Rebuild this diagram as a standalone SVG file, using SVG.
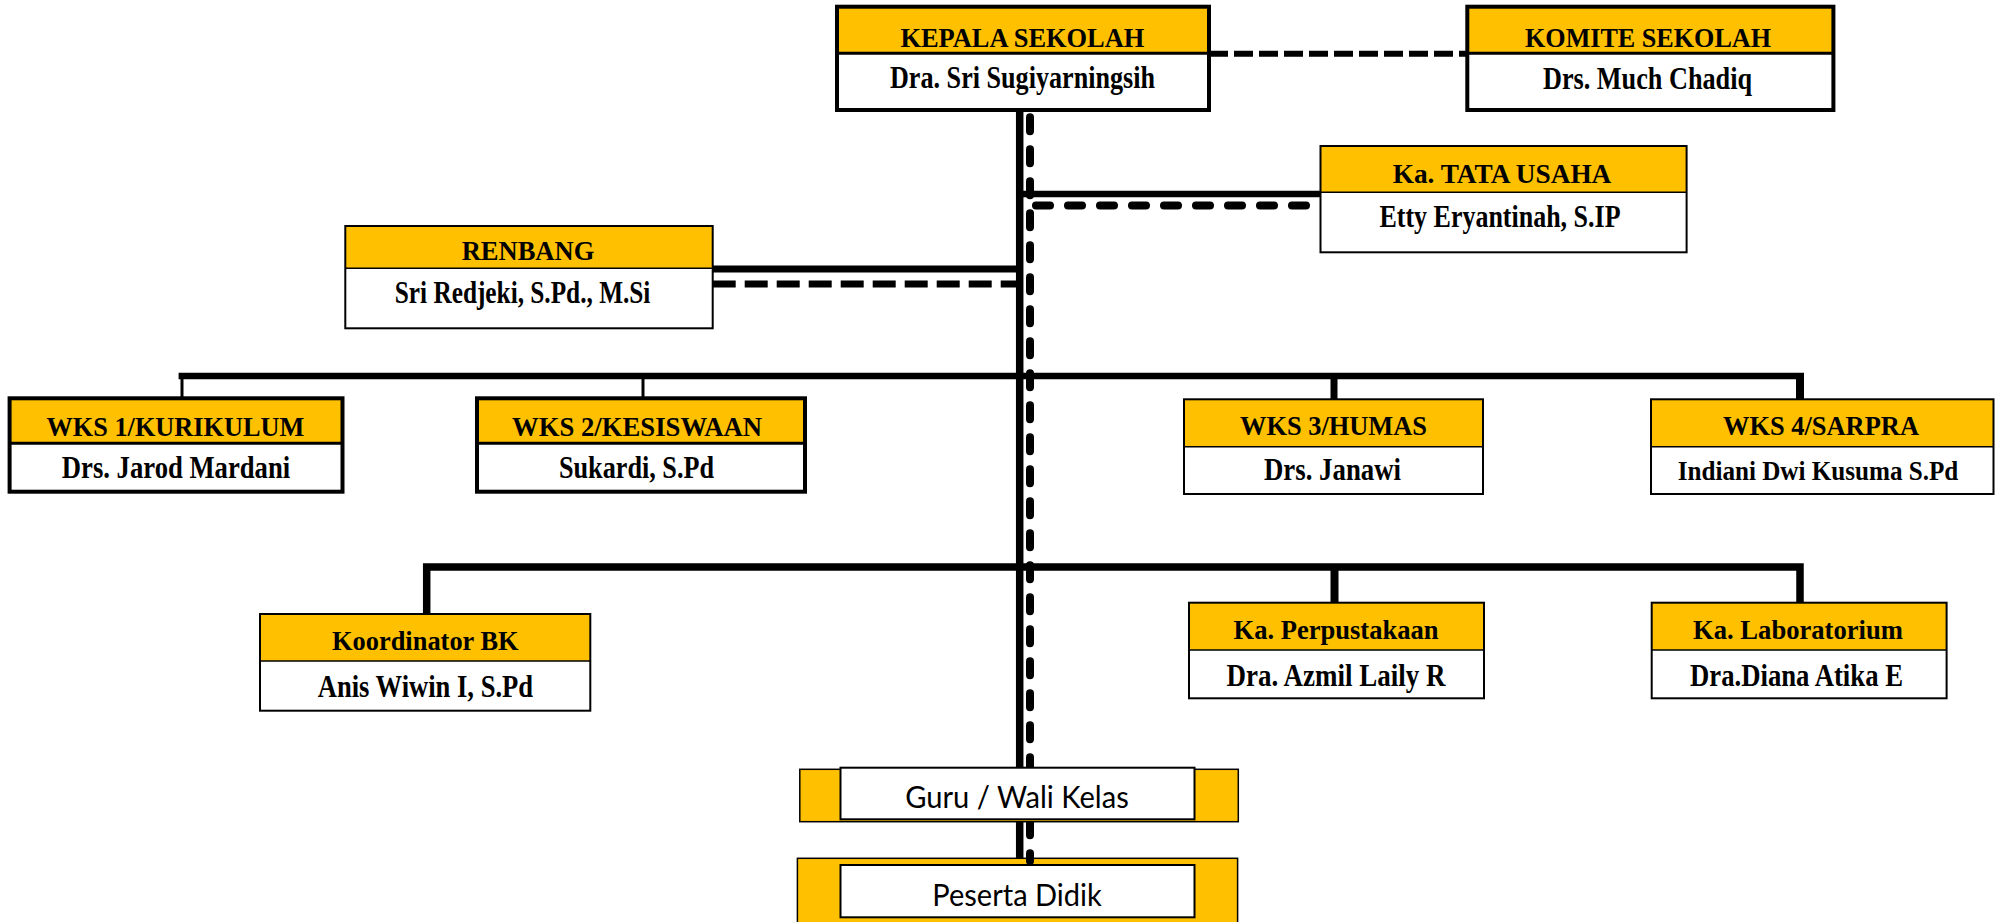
<svg xmlns="http://www.w3.org/2000/svg" width="2003" height="922" viewBox="0 0 2003 922">
<style>
.hd{fill:#FFC000}
.bx{fill:#fff}
.thick{fill:none;stroke:#000;stroke-width:4}
.thin{fill:none;stroke:#000;stroke-width:2}
.div4{stroke:#000;stroke-width:3}
.div2{stroke:#000;stroke-width:1.5}
.t{font-family:"Liberation Serif","Times New Roman",serif;font-weight:bold;text-anchor:middle;fill:#000}
.h{font-size:27.5px}
.n{font-size:30.5px}
.n2{font-size:28px}
.s{font-family:Lato,"Open Sans","Liberation Sans",sans-serif;font-size:30px;text-anchor:middle;fill:#000}
.solid{fill:none;stroke:#000;stroke-linecap:butt}
.dashR{fill:none;stroke:#000;stroke-width:8;stroke-linecap:round;stroke-dasharray:14 18}
</style>
<rect width="2003" height="922" fill="#fff"/>

<g id="peserta-didik">
<rect x="797.4" y="858.3" width="440.2" height="70" class="hd" stroke="#000" stroke-width="1.5"/>
<rect x="840.5" y="865" width="354" height="52.3" class="bx" stroke="#000" stroke-width="2"/>
<text x="1017" y="905.7" class="s" textLength="169.5" lengthAdjust="spacingAndGlyphs">Peserta Didik</text>
</g>

<g id="connectors">
<path class="solid" stroke-width="7.5" d="M1019.7 110 V858.3"/>
<path class="dashR" d="M1030 117.3 V861"/>
<path class="solid" stroke-width="6" stroke-dasharray="19 6" d="M1209 53.7 H1467"/>
<path class="solid" stroke-width="6.6" d="M1020 194 H1321"/>
<path class="dashR" d="M1036 205.5 H1318"/>
<path class="solid" stroke-width="7" d="M712 269 H1020"/>
<path class="solid" stroke-width="7" stroke-dasharray="23 9" d="M712.7 284 H1016"/>
<path class="solid" stroke-width="6.5" d="M178.6 376 H1804"/>
<path class="solid" stroke-width="3" d="M182 376 V399"/>
<path class="solid" stroke-width="3" d="M643 376 V399"/>
<path class="solid" stroke-width="7" d="M1334 376 V400"/>
<path class="solid" stroke-width="8" d="M1800 373 V400"/>
<path class="solid" stroke-width="7.5" stroke-linejoin="miter" d="M426.7 614 V567 H1800 V603"/>
<path class="solid" stroke-width="8" d="M1334.5 567 V603"/>
</g>

<g id="kepala-sekolah">
<rect x="837" y="6.7" width="372" height="46.6" class="hd"/>
<rect x="837" y="53.3" width="372" height="56.7" class="bx"/>
<line x1="837" y1="53.3" x2="1209" y2="53.3" class="div4"/>
<rect x="837" y="6.7" width="372" height="103.3" class="thick"/>
<text x="1022.4" y="46.7" class="t h" textLength="244" lengthAdjust="spacingAndGlyphs">KEPALA SEKOLAH</text>
<text x="1022.5" y="88" class="t n" textLength="265" lengthAdjust="spacingAndGlyphs">Dra. Sri Sugiyarningsih</text>
</g>

<g id="komite-sekolah">
<rect x="1467.3" y="6.7" width="366.1" height="46.6" class="hd"/>
<rect x="1467.3" y="53.3" width="366.1" height="56.7" class="bx"/>
<line x1="1467.3" y1="53.3" x2="1833.4" y2="53.3" class="div4"/>
<rect x="1467.3" y="6.7" width="366.1" height="103.3" class="thick"/>
<text x="1648" y="46.7" class="t h" textLength="246" lengthAdjust="spacingAndGlyphs">KOMITE SEKOLAH</text>
<text x="1647.5" y="89" class="t n" textLength="209" lengthAdjust="spacingAndGlyphs">Drs. Much Chadiq</text>
</g>

<g id="tata-usaha">
<rect x="1320.5" y="146" width="366.1" height="46.3" class="hd"/>
<rect x="1320.5" y="192.3" width="366.1" height="60" class="bx"/>
<line x1="1320.5" y1="192.3" x2="1686.6" y2="192.3" class="div2"/>
<rect x="1320.5" y="146" width="366.1" height="106.3" class="thin"/>
<text x="1502" y="182.7" class="t h" textLength="218.7" lengthAdjust="spacingAndGlyphs">Ka. TATA USAHA</text>
<text x="1500" y="226.7" class="t n" textLength="241" lengthAdjust="spacingAndGlyphs">Etty Eryantinah, S.IP</text>
</g>

<g id="renbang">
<rect x="345.3" y="226" width="367.4" height="42.3" class="hd"/>
<rect x="345.3" y="268.3" width="367.4" height="60" class="bx"/>
<line x1="345.3" y1="268.3" x2="712.7" y2="268.3" class="div2"/>
<rect x="345.3" y="226" width="367.4" height="102.3" class="thin"/>
<text x="528" y="260" class="t h" textLength="132.7" lengthAdjust="spacingAndGlyphs">RENBANG</text>
<text x="522.6" y="303.3" class="t n" textLength="255.6" lengthAdjust="spacingAndGlyphs">Sri Redjeki, S.Pd., M.Si</text>
</g>

<g id="wks1">
<rect x="9.6" y="398.3" width="332.9" height="45" class="hd"/>
<rect x="9.6" y="443.3" width="332.9" height="48.4" class="bx"/>
<line x1="9.6" y1="443.3" x2="342.5" y2="443.3" class="div4"/>
<rect x="9.6" y="398.3" width="332.9" height="93.4" class="thick"/>
<text x="175.4" y="436" class="t h" textLength="257.6" lengthAdjust="spacingAndGlyphs">WKS 1/KURIKULUM</text>
<text x="176" y="478.3" class="t n" textLength="228.3" lengthAdjust="spacingAndGlyphs">Drs. Jarod Mardani</text>
</g>

<g id="wks2">
<rect x="477" y="398.3" width="328" height="45" class="hd"/>
<rect x="477" y="443.3" width="328" height="48.4" class="bx"/>
<line x1="477" y1="443.3" x2="805" y2="443.3" class="div4"/>
<rect x="477" y="398.3" width="328" height="93.4" class="thick"/>
<text x="637" y="436" class="t h" textLength="250" lengthAdjust="spacingAndGlyphs">WKS 2/KESISWAAN</text>
<text x="636.5" y="478.3" class="t n" textLength="155" lengthAdjust="spacingAndGlyphs">Sukardi, S.Pd</text>
</g>

<g id="wks3">
<rect x="1184" y="399.3" width="299" height="47.4" class="hd"/>
<rect x="1184" y="446.7" width="299" height="47.3" class="bx"/>
<line x1="1184" y1="446.7" x2="1483" y2="446.7" class="div2"/>
<rect x="1184" y="399.3" width="299" height="94.7" class="thin"/>
<text x="1333.5" y="435" class="t h" textLength="187" lengthAdjust="spacingAndGlyphs">WKS 3/HUMAS</text>
<text x="1332.5" y="480" class="t n" textLength="137" lengthAdjust="spacingAndGlyphs">Drs. Janawi</text>
</g>

<g id="wks4">
<rect x="1651" y="399.3" width="342.5" height="47.4" class="hd"/>
<rect x="1651" y="446.7" width="342.5" height="47.3" class="bx"/>
<line x1="1651" y1="446.7" x2="1993.5" y2="446.7" class="div2"/>
<rect x="1651" y="399.3" width="342.5" height="94.7" class="thin"/>
<text x="1821" y="435" class="t h" textLength="196" lengthAdjust="spacingAndGlyphs">WKS 4/SARPRA</text>
<text x="1818" y="480" class="t n2" textLength="280.6" lengthAdjust="spacingAndGlyphs">Indiani Dwi Kusuma S.Pd</text>
</g>

<g id="koordinator-bk">
<rect x="260" y="614" width="330.3" height="47" class="hd"/>
<rect x="260" y="661" width="330.3" height="49.7" class="bx"/>
<line x1="260" y1="661" x2="590.3" y2="661" class="div2"/>
<rect x="260" y="614" width="330.3" height="96.7" class="thin"/>
<text x="425.3" y="650" class="t h" textLength="186.6" lengthAdjust="spacingAndGlyphs">Koordinator BK</text>
<text x="425.4" y="696.7" class="t n" textLength="215.3" lengthAdjust="spacingAndGlyphs">Anis Wiwin I, S.Pd</text>
</g>

<g id="perpustakaan">
<rect x="1189" y="602.7" width="295" height="47.3" class="hd"/>
<rect x="1189" y="650" width="295" height="48.3" class="bx"/>
<line x1="1189" y1="650" x2="1484" y2="650" class="div2"/>
<rect x="1189" y="602.7" width="295" height="95.6" class="thin"/>
<text x="1336" y="639.3" class="t h" textLength="205" lengthAdjust="spacingAndGlyphs">Ka. Perpustakaan</text>
<text x="1336" y="686" class="t n" textLength="218.8" lengthAdjust="spacingAndGlyphs">Dra. Azmil Laily R</text>
</g>

<g id="laboratorium">
<rect x="1651.7" y="602.7" width="294.9" height="47.3" class="hd"/>
<rect x="1651.7" y="650" width="294.9" height="48.3" class="bx"/>
<line x1="1651.7" y1="650" x2="1946.6" y2="650" class="div2"/>
<rect x="1651.7" y="602.7" width="294.9" height="95.6" class="thin"/>
<text x="1798" y="639.3" class="t h" textLength="210" lengthAdjust="spacingAndGlyphs">Ka. Laboratorium</text>
<text x="1796.5" y="686" class="t n" textLength="213" lengthAdjust="spacingAndGlyphs">Dra.Diana Atika E</text>
</g>

<g id="guru-wali-kelas">
<rect x="799.8" y="769.3" width="438.5" height="52.4" class="hd" stroke="#000" stroke-width="1.5"/>
<rect x="840.5" y="767.7" width="354" height="51.6" class="bx" stroke="#000" stroke-width="2"/>
<text x="1017" y="808.3" class="s" textLength="223.5" lengthAdjust="spacingAndGlyphs">Guru / Wali Kelas</text>
</g>
</svg>
